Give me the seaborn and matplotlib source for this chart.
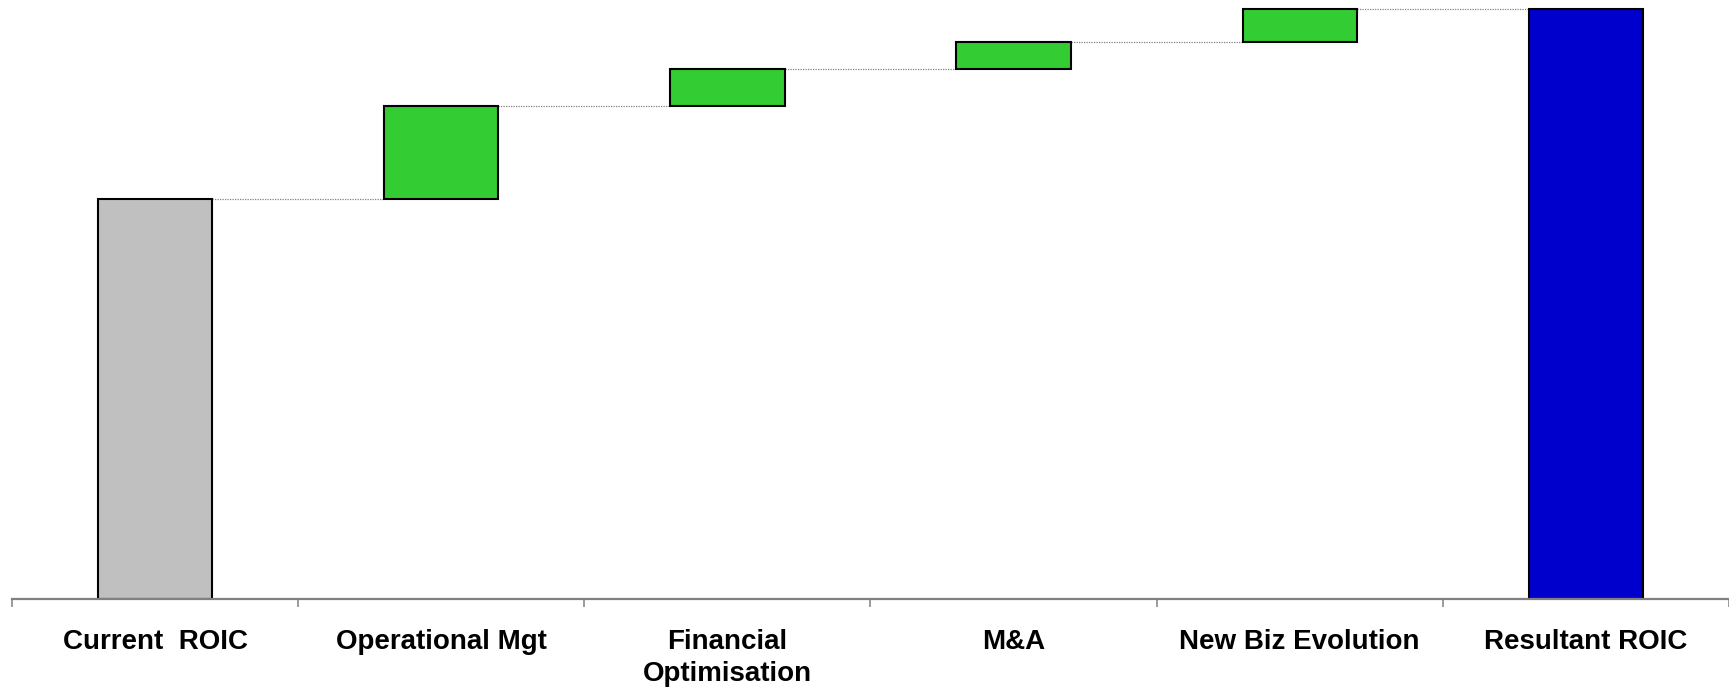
import numpy as np
import pandas as pd
import matplotlib
matplotlib.use("Agg")
import matplotlib.pyplot as plt
import seaborn as sns

# ---- data ----
categories = ["Current  ROIC", "Operational Mgt", "Financial\nOptimisation",
              "M&A", "New Biz Evolution", "Resultant ROIC"]
start_value = 12.0
increments = [2.8, 1.1, 0.8, 1.0]
bar_colors = ["#C0C0C0", "#33CC33", "#33CC33", "#33CC33", "#33CC33", "#0000CC"]

cum = np.cumsum([start_value] + increments)
total = cum[-1]
heights = [start_value] + increments + [total]
bottoms = [0.0] + list(cum[:-1]) + [0.0]
tops = [b + h for b, h in zip(bottoms, heights)]

df = pd.DataFrame({"category": categories, "height": heights})

sns.set_theme(style="white")
plt.rcParams["font.family"] = ["Liberation Sans", "DejaVu Sans"]

fig = plt.figure(figsize=(17.29, 6.89), dpi=100)
W, H = 1729, 689
ax = fig.add_axes([12 / W, (H - 599) / H, (W - 12) / W, 599 / H])

bar_w = 0.40
sns.barplot(data=df, x="category", y="height", ax=ax, width=bar_w,
            bottom=bottoms, color=bar_colors[0], edgecolor="black",
            linewidth=1.5, saturation=1, errorbar=None)
for p, c in zip(ax.patches, bar_colors):
    p.set_facecolor(c)

# connectors
for i in range(len(categories) - 1):
    level = tops[i]
    ax.hlines(level, i + bar_w / 2, i + 1 - bar_w / 2, colors="#808080",
              linestyles=(0, (1, 1)), linewidth=0.9, zorder=0)

ax.set_xlim(-0.5, len(categories) - 0.5)
ax.set_ylim(0, total + 9 * total / 590)

ax.set_xlabel("")
ax.set_ylabel("")
ax.set_yticks([])
for s in ["top", "right", "left"]:
    ax.spines[s].set_visible(False)
ax.spines["bottom"].set_color("#808080")
ax.spines["bottom"].set_linewidth(1.6)

ax.set_xticks(range(len(categories)))
ax.set_xticklabels(categories, fontsize=20, fontweight="bold", color="black",
                   linespacing=1.3)
ax.tick_params(axis="x", which="major", length=0, pad=21.5)
ax.set_xticks(np.arange(-0.5, len(categories)), minor=True)
ax.tick_params(axis="x", which="minor", length=5.5, width=1.1, color="#808080",
               direction="out", bottom=True)

fig.savefig("out.png", dpi=100)
